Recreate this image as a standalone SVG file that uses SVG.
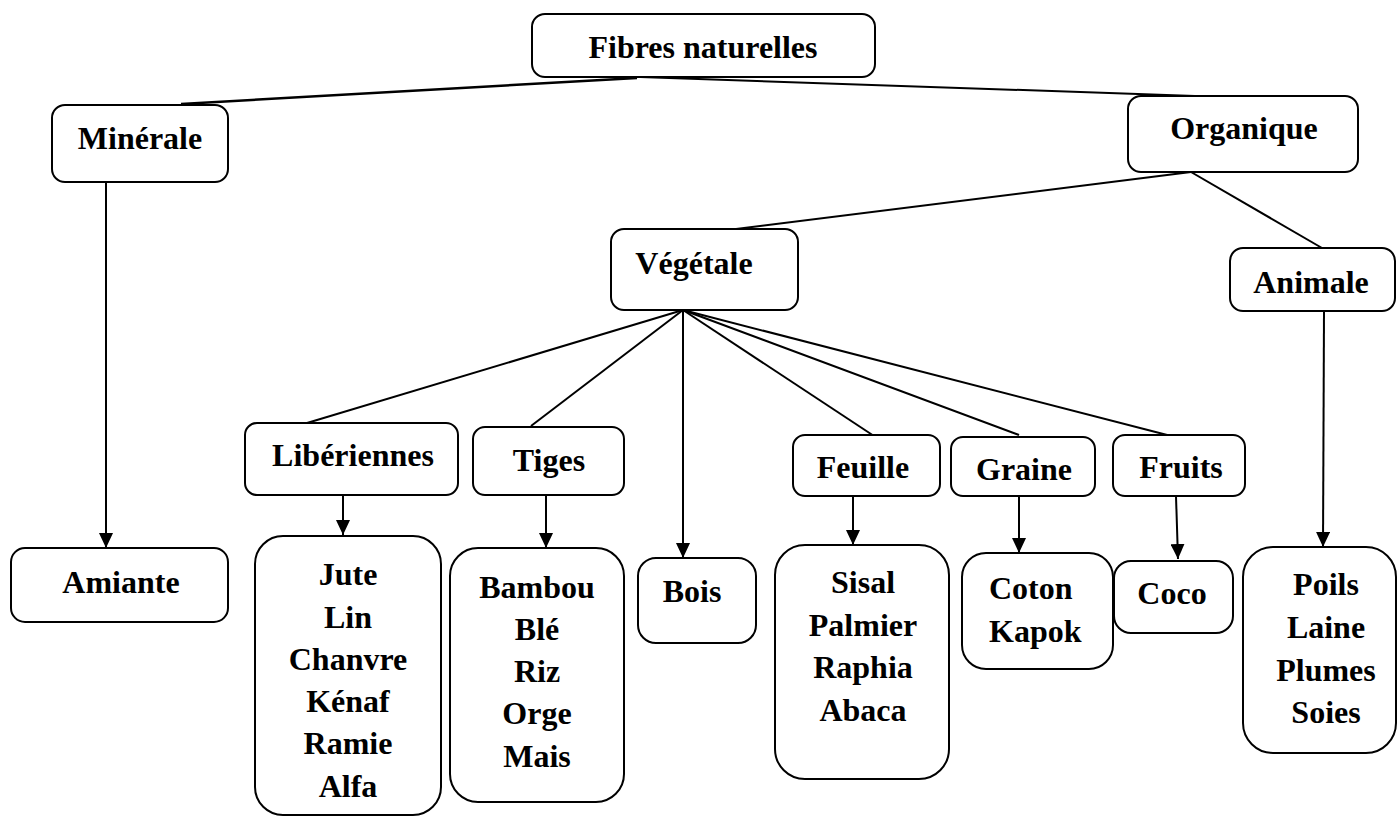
<svg xmlns="http://www.w3.org/2000/svg" width="1397" height="816" viewBox="0 0 1397 816">
<style>
.box{fill:#fff;stroke:#000;stroke-width:2}
.t{font-family:"Liberation Serif","Times New Roman",serif;font-weight:bold;font-size:32px;fill:#000;text-anchor:middle}
.ln{stroke:#000;stroke-width:2;fill:none}
.ar{stroke:#000;stroke-width:2;fill:none;marker-end:url(#ah)}
</style>
<defs>
<marker id="ah" markerUnits="userSpaceOnUse" markerWidth="15" markerHeight="14" refX="15" refY="7" orient="auto">
<path d="M0,0 L15,7 L0,14 z" fill="#000"/>
</marker>
</defs>
<rect width="1397" height="816" fill="#fff"/>
<g id="connectors">
<line class="ln" x1="637" y1="78" x2="181" y2="104" style="stroke-width:2.5"/>
<line class="ln" x1="640" y1="77" x2="1195" y2="96"/>
<line class="ln" x1="1191" y1="172" x2="736" y2="229"/>
<line class="ln" x1="1191" y1="172" x2="1322" y2="248"/>
<line class="ln" x1="683" y1="310" x2="307" y2="423"/>
<line class="ln" x1="683" y1="310" x2="531" y2="426"/>
<line class="ln" x1="683" y1="310" x2="874" y2="436"/>
<line class="ln" x1="683" y1="310" x2="1019" y2="435"/>
<line class="ln" x1="683" y1="310" x2="1175" y2="437"/>
<line class="ar" x1="106" y1="182" x2="106" y2="548"/>
<line class="ar" x1="343" y1="495" x2="343" y2="535"/>
<line class="ar" x1="546" y1="495" x2="546" y2="548"/>
<line class="ar" x1="683" y1="310" x2="683" y2="558"/>
<line class="ar" x1="853" y1="496" x2="853" y2="545"/>
<line class="ar" x1="1019" y1="496" x2="1019" y2="553"/>
<line class="ar" x1="1176" y1="496" x2="1178" y2="559"/>
<line class="ar" x1="1324" y1="311" x2="1323" y2="547"/>
</g>
<g id="fibres"><rect class="box" x="532" y="14" width="343" height="63" rx="13"/><text class="t" x="703" y="58">Fibres naturelles</text></g>
<g id="minerale"><rect class="box" x="52" y="105" width="176" height="77" rx="13"/><text class="t" x="140" y="149">Minérale</text></g>
<g id="organique"><rect class="box" x="1128" y="96" width="230" height="76" rx="13"/><text class="t" x="1244" y="139">Organique</text></g>
<g id="vegetale"><rect class="box" x="611" y="229" width="187" height="81" rx="13"/><text class="t" x="694" y="274">Végétale</text></g>
<g id="animale"><rect class="box" x="1230" y="248" width="165" height="63" rx="13"/><text class="t" x="1311" y="293">Animale</text></g>
<g id="liberiennes"><rect class="box" x="245" y="423" width="213" height="72" rx="12"/><text class="t" x="353" y="466">Libériennes</text></g>
<g id="tiges"><rect class="box" x="473" y="427" width="151" height="68" rx="12"/><text class="t" x="549" y="471">Tiges</text></g>
<g id="feuille"><rect class="box" x="793" y="435" width="147" height="61" rx="12"/><text class="t" x="863" y="478">Feuille</text></g>
<g id="graine"><rect class="box" x="951" y="437" width="144" height="59" rx="12"/><text class="t" x="1024" y="480">Graine</text></g>
<g id="fruits"><rect class="box" x="1113" y="435" width="132" height="61" rx="12"/><text class="t" x="1181" y="478">Fruits</text></g>
<g id="amiante"><rect class="box" x="11" y="548" width="217" height="74" rx="14"/><text class="t" x="121" y="593">Amiante</text></g>
<g id="liberiennes-list"><rect class="box" x="255" y="536" width="186" height="279" rx="28"/>
<text class="t" x="348" y="585">Jute</text><text class="t" x="348" y="628">Lin</text><text class="t" x="348" y="670">Chanvre</text><text class="t" x="348" y="712">Kénaf</text><text class="t" x="348" y="754">Ramie</text><text class="t" x="348" y="797">Alfa</text></g>
<g id="tiges-list"><rect class="box" x="450" y="548" width="174" height="254" rx="28"/>
<text class="t" x="537" y="598">Bambou</text><text class="t" x="537" y="640">Blé</text><text class="t" x="537" y="682">Riz</text><text class="t" x="537" y="724">Orge</text><text class="t" x="537" y="767">Mais</text></g>
<g id="bois"><rect class="box" x="638" y="558" width="118" height="85" rx="18"/><text class="t" x="692" y="602">Bois</text></g>
<g id="feuille-list"><rect class="box" x="775" y="545" width="174" height="234" rx="30"/>
<text class="t" x="863" y="593">Sisal</text><text class="t" x="863" y="636">Palmier</text><text class="t" x="863" y="678">Raphia</text><text class="t" x="863" y="721">Abaca</text></g>
<g id="graine-list"><rect class="box" x="962" y="553" width="151" height="116" rx="24"/>
<text class="t" x="989" y="599" style="text-anchor:start">Coton</text><text class="t" x="989" y="642" style="text-anchor:start">Kapok</text></g>
<g id="coco"><rect class="box" x="1114" y="561" width="119" height="72" rx="17"/><text class="t" x="1172" y="604">Coco</text></g>
<g id="animale-list"><rect class="box" x="1243" y="547" width="153" height="206" rx="30"/>
<text class="t" x="1326" y="595">Poils</text><text class="t" x="1326" y="638">Laine</text><text class="t" x="1326" y="681">Plumes</text><text class="t" x="1326" y="723">Soies</text></g>
</svg>
